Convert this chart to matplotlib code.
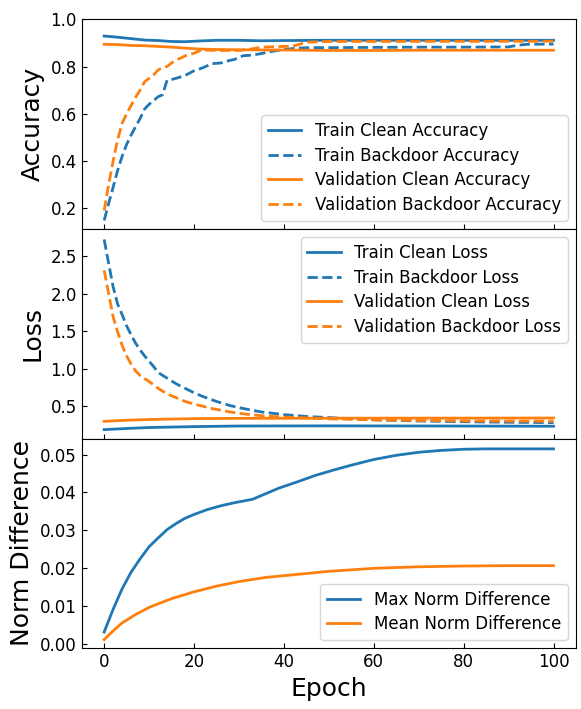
import matplotlib
matplotlib.use("Agg")
import matplotlib.pyplot as plt

# ------------------ DATA ------------------
# accuracy panel
ep_train_bd_acc = [0, 1, 2, 3, 4, 5, 6, 7, 8, 9, 10, 11, 12, 13, 14, 15, 16, 17, 18, 19, 20,
                   22, 24, 26, 28, 29, 31, 33, 35, 37, 40, 43, 46, 50, 60, 70, 80, 90, 92, 94, 100]
train_bd_acc = [0.148, 0.22, 0.289, 0.36, 0.42, 0.47, 0.51, 0.545, 0.58, 0.62, 0.64, 0.655, 0.672,
                0.68, 0.742, 0.745, 0.75, 0.756, 0.762, 0.772, 0.782, 0.795, 0.812, 0.815, 0.826,
                0.83, 0.846, 0.848, 0.855, 0.863, 0.872, 0.878, 0.88, 0.88, 0.881, 0.882, 0.882,
                0.883, 0.89, 0.894, 0.895]

ep_val_bd_acc = [0, 1, 2, 3, 4, 5, 6, 7, 8, 9, 10, 11, 12, 13, 14, 15, 16, 17, 18, 19, 20, 21,
                 22, 25, 30, 33, 35, 40, 42, 45, 50, 100]
val_bd_acc = [0.19, 0.30, 0.40, 0.49, 0.56, 0.60, 0.635, 0.67, 0.70, 0.735, 0.75, 0.765, 0.785,
              0.795, 0.80, 0.815, 0.828, 0.835, 0.845, 0.85, 0.856, 0.865, 0.87, 0.868, 0.868,
              0.875, 0.882, 0.885, 0.886, 0.903, 0.906, 0.907]

ep_clean_acc = [0, 3, 6, 9, 12, 15, 18, 21, 25, 30, 35, 40, 50, 60, 70, 80, 90, 100]
train_clean_acc = [0.929, 0.924, 0.918, 0.912, 0.91, 0.906, 0.905, 0.908, 0.911, 0.911, 0.909,
                   0.91, 0.911, 0.911, 0.911, 0.911, 0.911, 0.911]
val_clean_acc = [0.894, 0.893, 0.889, 0.888, 0.885, 0.882, 0.878, 0.874, 0.872, 0.871, 0.870,
                 0.870, 0.868, 0.868, 0.869, 0.869, 0.869, 0.869]

# loss panel
ep_train_bd_loss = [0, 1, 2, 3, 4, 5, 6, 7, 8, 9, 10, 11, 12, 14, 16, 18, 20, 22, 25, 28, 31, 35,
                    40, 45, 50, 55, 60, 70, 80, 90, 100]
train_bd_loss = [2.72, 2.40, 2.09, 1.86, 1.72, 1.57, 1.45, 1.34, 1.25, 1.17, 1.10, 1.03, 0.95,
                 0.875, 0.80, 0.74, 0.68, 0.63, 0.565, 0.51, 0.47, 0.425, 0.39, 0.365, 0.35,
                 0.335, 0.32, 0.305, 0.295, 0.288, 0.283]

ep_val_bd_loss = [0, 1, 2, 3, 4, 5, 6, 7, 8, 9, 10, 12, 14, 16, 18, 20, 24, 28, 31, 35, 39, 45,
                  50, 60, 70, 80, 90, 100]
val_bd_loss = [2.31, 2.0, 1.69, 1.49, 1.31, 1.17, 1.06, 0.97, 0.91, 0.87, 0.83, 0.74, 0.665,
               0.615, 0.565, 0.53, 0.47, 0.425, 0.40, 0.375, 0.36, 0.345, 0.333, 0.32, 0.312,
               0.307, 0.304, 0.302]

ep_clean_loss = [0, 5, 10, 20, 30, 50, 75, 100]
train_clean_loss = [0.19, 0.205, 0.218, 0.23, 0.238, 0.24, 0.238, 0.235]
val_clean_loss = [0.30, 0.315, 0.325, 0.336, 0.34, 0.342, 0.343, 0.344]

# norm difference panel
ep_max_norm = [0, 2, 4, 6, 8, 10, 12, 14, 16, 18, 20, 23, 26, 29, 33, 36, 39, 43, 47, 51, 55,
               60, 65, 70, 75, 80, 85, 100]
max_norm = [0.0032, 0.0092, 0.0146, 0.019, 0.0225, 0.0257, 0.028, 0.0302, 0.0318, 0.0332,
            0.0342, 0.0355, 0.0365, 0.0373, 0.0382, 0.0397, 0.0412, 0.0428, 0.0445, 0.0459,
            0.0472, 0.0487, 0.0498, 0.0506, 0.0511, 0.0514, 0.0515, 0.0515]

ep_mean_norm = [0, 2, 4, 7, 10, 15, 20, 25, 30, 36, 43, 50, 60, 70, 80, 90, 100]
mean_norm = [0.0012, 0.0035, 0.0056, 0.0078, 0.0097, 0.0120, 0.0138, 0.0153, 0.0165, 0.0176,
             0.0184, 0.0192, 0.0200, 0.0204, 0.0206, 0.0207, 0.0207]

x_ticks = [0, 20, 40, 60, 80, 100]

BLUE = "tab:blue"
ORANGE = "tab:orange"

# ------------------ PLOT ------------------
fig, axes = plt.subplots(3, 1, sharex=True, figsize=(5.81, 7.09), dpi=100)
fig.subplots_adjust(left=0.1406, right=0.9914, top=0.9728, bottom=0.0856, hspace=0)
ax1, ax2, ax3 = axes

lw = 2
label_size = 18
legend_kw = dict(fontsize=12, labelspacing=0.4)

ax1.plot(ep_clean_acc, train_clean_acc, c=BLUE, lw=lw, label="Train Clean Accuracy")
ax1.plot(ep_train_bd_acc, train_bd_acc, c=BLUE, lw=lw, ls="--", label="Train Backdoor Accuracy")
ax1.plot(ep_clean_acc, val_clean_acc, c=ORANGE, lw=lw, label="Validation Clean Accuracy")
ax1.plot(ep_val_bd_acc, val_bd_acc, c=ORANGE, lw=lw, ls="--", label="Validation Backdoor Accuracy")
ax1.set_ylim(0.112, 1.0)
ax1.set_ylabel("Accuracy", fontsize=label_size)
ax1.legend(loc="lower right", **legend_kw)

ax2.plot(ep_clean_loss, train_clean_loss, c=BLUE, lw=lw, label="Train Clean Loss")
ax2.plot(ep_train_bd_loss, train_bd_loss, c=BLUE, lw=lw, ls="--", label="Train Backdoor Loss")
ax2.plot(ep_clean_loss, val_clean_loss, c=ORANGE, lw=lw, label="Validation Clean Loss")
ax2.plot(ep_val_bd_loss, val_bd_loss, c=ORANGE, lw=lw, ls="--", label="Validation Backdoor Loss")
ax2.set_ylim(0.07, 2.86)
ax2.set_yticks([0.5, 1.0, 1.5, 2.0, 2.5])
ax2.set_ylabel("Loss", fontsize=label_size)
ax2.legend(loc="upper right", **legend_kw)

ax3.plot(ep_max_norm, max_norm, c=BLUE, lw=lw, label="Max Norm Difference")
ax3.plot(ep_mean_norm, mean_norm, c=ORANGE, lw=lw, label="Mean Norm Difference")
ax3.set_ylim(-0.0011, 0.0542)
ax3.set_ylabel("Norm Difference", fontsize=label_size)
ax3.set_xlabel("Epoch", fontsize=label_size)
ax3.legend(loc="lower right", **legend_kw)

ax3.set_xticks(x_ticks)
ax3.set_xlim(-5, 105)
for ax in axes:
    ax.tick_params(direction="in", labelsize=12)

plt.savefig("out.png", dpi=100)
